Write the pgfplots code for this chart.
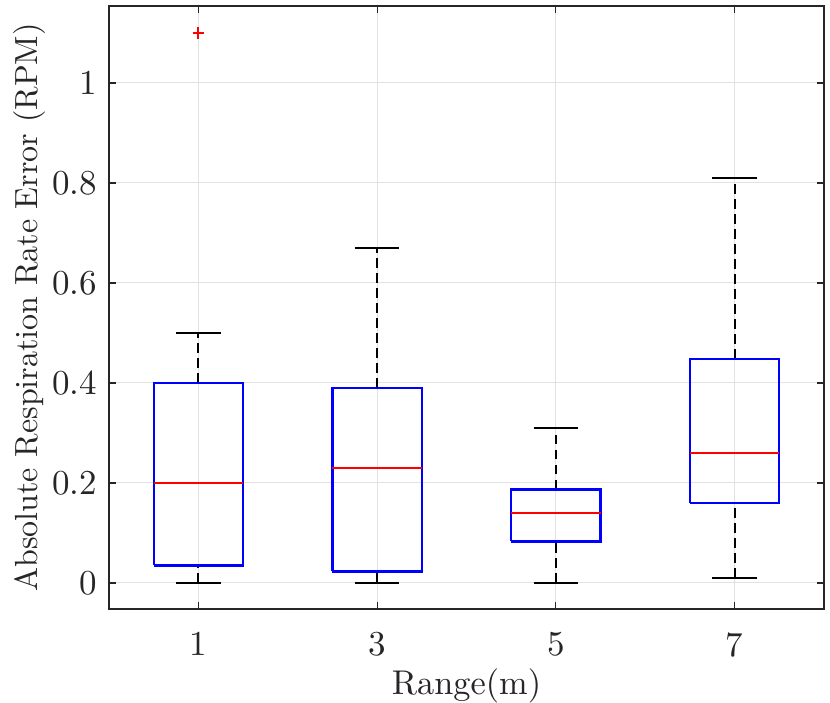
\documentclass[border=0pt]{standalone}
\usepackage{pgfplots}
\pgfplotsset{compat=1.18}
\definecolor{axcol}{RGB}{38,38,38}
\definecolor{gridcol}{RGB}{226,226,226}
\pgfplotsset{
  boxsty/.style={blue, line width=0.65pt, solid, no marks},
  medsty/.style={red, line width=0.65pt, solid, no marks},
  whisk/.style={black, line width=0.65pt, dash pattern=on 2.9pt off 1.6pt, no marks},
  capsty/.style={black, line width=0.65pt, solid, no marks},
}
\begin{document}
\begin{tikzpicture}
\begin{axis}[
  scale only axis, width=214.5pt, height=180.9pt,
  xmin=0.5, xmax=4.5, ymin=-0.052, ymax=1.154,
  xtick={1,2,3,4}, xticklabels={1,3,5,7},
  ytick={0,0.2,0.4,0.6,0.8,1},
  yticklabels={0,0.2,0.4,0.6,0.8,1},
  grid=major, major grid style={gridcol, line width=0.3pt},
  axis line style={axcol, line width=0.35pt},
  tick style={axcol, line width=0.35pt},
  tick align=inside, major tick length=2pt,
  tick label style={text=axcol, font=\fontsize{10.5}{12}\selectfont},
  xticklabel style={yshift=-3.5pt},
  label style={text=axcol, font=\fontsize{9.6}{11.5}\selectfont},
  xlabel={Range(m)},
  ylabel={Absolute Respiration Rate Error (RPM)},
  xlabel style={at={(axis description cs:0.5,-0.127)},anchor=center, font=\fontsize{10.3}{12}\selectfont},
  ylabel style={at={(axis description cs:-0.1105,0.5)},anchor=center},
]
% ---- Range 1 m (position 1): whiskers 0 / 0.5, box 0.035-0.4, median 0.2
\addplot[whisk] coordinates {(1,0.4) (1,0.5)};
\addplot[whisk] coordinates {(1,0) (1,0.035)};
\addplot[capsty] coordinates {(0.875,0.5) (1.125,0.5)};
\addplot[capsty] coordinates {(0.875,0) (1.125,0)};
\addplot[boxsty] coordinates {(0.75,0.035) (1.25,0.035) (1.25,0.4) (0.75,0.4) (0.75,0.035)};
\addplot[medsty] coordinates {(0.75,0.2) (1.25,0.2)};
\addplot[only marks, mark=+, mark size=1.7pt, mark options={red, line width=0.65pt}] coordinates {(1,1.1)};
% ---- Range 3 m (position 2)
\addplot[whisk] coordinates {(2,0.39) (2,0.67)};
\addplot[whisk] coordinates {(2,0) (2,0.023)};
\addplot[capsty] coordinates {(1.875,0.67) (2.125,0.67)};
\addplot[capsty] coordinates {(1.875,0) (2.125,0)};
\addplot[boxsty] coordinates {(1.75,0.023) (2.25,0.023) (2.25,0.39) (1.75,0.39) (1.75,0.023)};
\addplot[medsty] coordinates {(1.75,0.23) (2.25,0.23)};
% ---- Range 5 m (position 3)
\addplot[whisk] coordinates {(3,0.187) (3,0.31)};
\addplot[whisk] coordinates {(3,0) (3,0.083)};
\addplot[capsty] coordinates {(2.875,0.31) (3.125,0.31)};
\addplot[capsty] coordinates {(2.875,0) (3.125,0)};
\addplot[boxsty] coordinates {(2.75,0.083) (3.25,0.083) (3.25,0.187) (2.75,0.187) (2.75,0.083)};
\addplot[medsty] coordinates {(2.75,0.14) (3.25,0.14)};
% ---- Range 7 m (position 4)
\addplot[whisk] coordinates {(4,0.448) (4,0.81)};
\addplot[whisk] coordinates {(4,0.01) (4,0.16)};
\addplot[capsty] coordinates {(3.875,0.81) (4.125,0.81)};
\addplot[capsty] coordinates {(3.875,0.01) (4.125,0.01)};
\addplot[boxsty] coordinates {(3.75,0.16) (4.25,0.16) (4.25,0.448) (3.75,0.448) (3.75,0.16)};
\addplot[medsty] coordinates {(3.75,0.26) (4.25,0.26)};
\end{axis}
\pgfresetboundingbox
\path (-32.7pt,-28.2pt) rectangle (216.3pt,182.7pt);
\end{tikzpicture}
\end{document}
